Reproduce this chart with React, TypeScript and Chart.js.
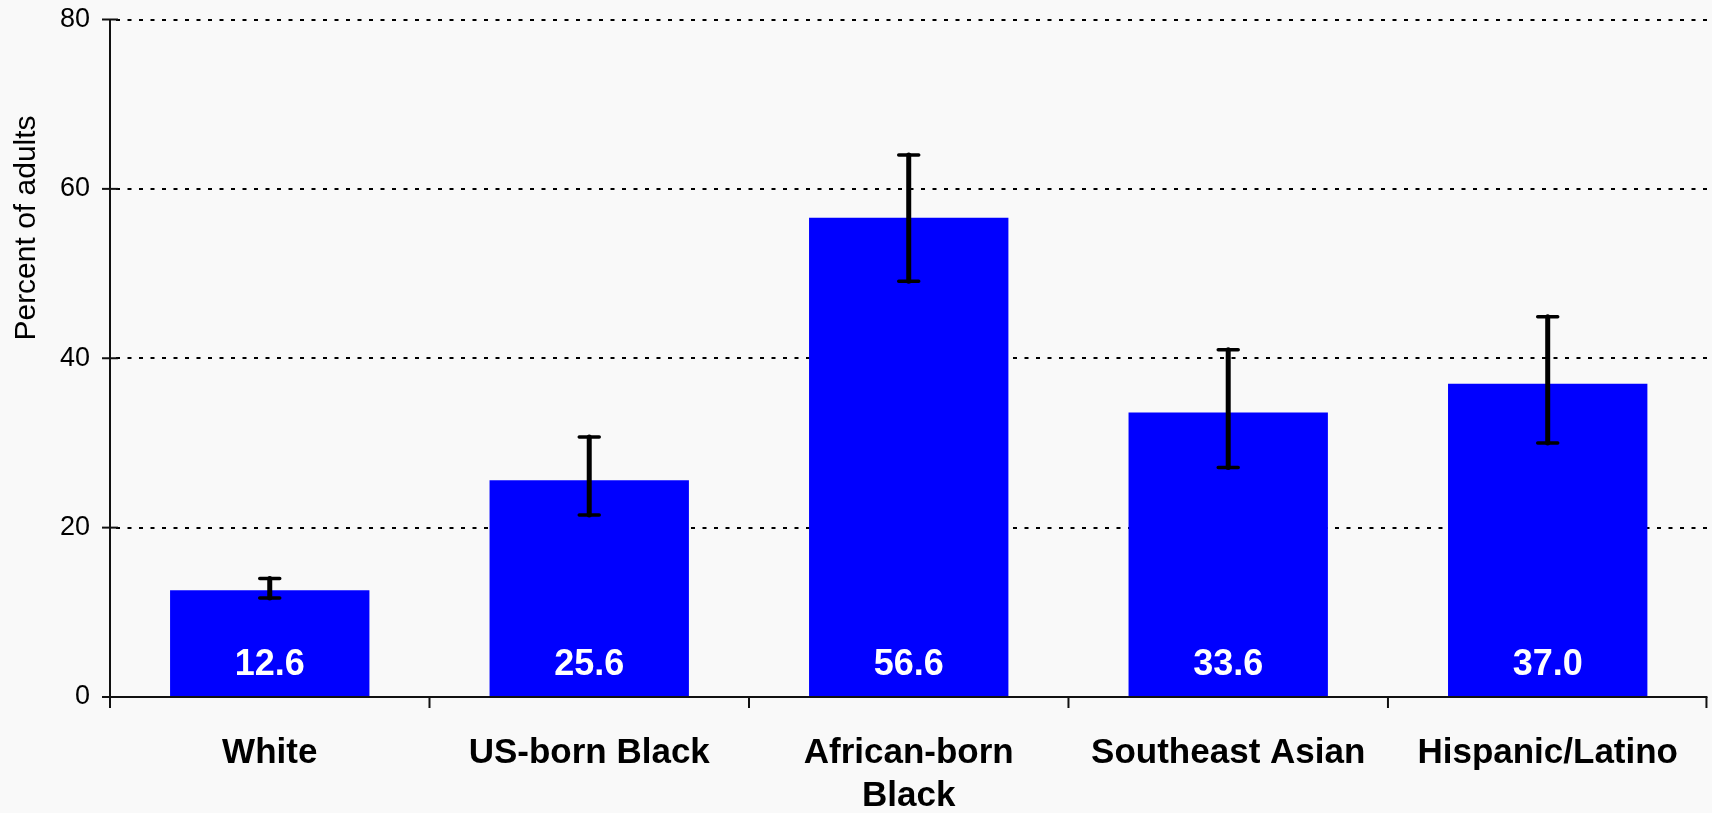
import React, { useEffect, useRef } from "react";
import { Chart, registerables } from "chart.js";

Chart.register(...registerables);

const categories: (string | string[])[] = [
  "White",
  "US-born Black",
  ["African-born", "Black"],
  "Southeast Asian",
  "Hispanic/Latino",
];
const values = [12.6, 25.6, 56.6, 33.6, 37.0];
const errLow = [11.7, 21.5, 49.1, 27.1, 30.0];
const errHigh = [14.0, 30.7, 64.0, 41.0, 44.9];
const yTicks = [0, 20, 40, 60, 80];
const yTitle = "Percent of adults";

const FONT = "'Liberation Sans', Arial, Helvetica, sans-serif";

const customPlugin = {
  id: "custom",
  beforeDraw(chart: any) {
    const ctx = chart.ctx;
    ctx.save();
    ctx.fillStyle = "#f9f9f9";
    ctx.fillRect(0, 0, chart.width, chart.height);
    ctx.restore();
  },
  beforeDatasetsDraw(chart: any) {
    const ctx = chart.ctx;
    const { left, right } = chart.chartArea;
    const y = chart.scales.y;
    ctx.save();
    ctx.strokeStyle = "#000";
    ctx.lineWidth = 2;
    ctx.setLineDash([4, 7.5]);
    yTicks.forEach((t) => {
      if (t === 0) return;
      const py = Math.round(y.getPixelForValue(t));
      ctx.beginPath();
      ctx.moveTo(left + 6, py);
      ctx.lineTo(right, py);
      ctx.stroke();
    });
    ctx.restore();
  },
  afterDatasetsDraw(chart: any) {
    const ctx = chart.ctx;
    const { left, right, top } = chart.chartArea;
    const x = chart.scales.x;
    const y = chart.scales.y;
    const base = y.getPixelForValue(0);
    ctx.save();
    ctx.setLineDash([]);
    ctx.strokeStyle = "#111";
    ctx.lineWidth = 2;
    // y axis
    ctx.beginPath();
    ctx.moveTo(left, top);
    ctx.lineTo(left, base + 11);
    ctx.stroke();
    // x axis
    ctx.beginPath();
    ctx.moveTo(left - 8, base);
    ctx.lineTo(right, base);
    ctx.stroke();
    // y ticks crossing
    yTicks.forEach((t) => {
      const py = y.getPixelForValue(t);
      ctx.beginPath();
      ctx.moveTo(left - 8, py);
      ctx.lineTo(left + 8, py);
      ctx.stroke();
    });
    // x ticks at category boundaries
    const half = (x.getPixelForValue(1) - x.getPixelForValue(0)) / 2;
    for (let i = 0; i <= categories.length; i++) {
      const px = Math.min(x.getPixelForValue(i) - half, right - 1);
      ctx.beginPath();
      ctx.moveTo(px, base);
      ctx.lineTo(px, base + 11);
      ctx.stroke();
    }
    // error bars
    ctx.strokeStyle = "#000";
    ctx.lineCap = "round";
    values.forEach((_, i) => {
      const px = x.getPixelForValue(i);
      const yl = y.getPixelForValue(errLow[i]);
      const yh = y.getPixelForValue(errHigh[i]);
      ctx.lineWidth = 5;
      ctx.beginPath();
      ctx.moveTo(px, yl);
      ctx.lineTo(px, yh);
      ctx.stroke();
      ctx.lineWidth = 3.5;
      ctx.beginPath();
      ctx.moveTo(px - 10, yl);
      ctx.lineTo(px + 10, yl);
      ctx.moveTo(px - 10, yh);
      ctx.lineTo(px + 10, yh);
      ctx.stroke();
    });
    // data labels
    ctx.fillStyle = "#fff";
    ctx.font = `bold 36px ${FONT}`;
    ctx.textAlign = "center";
    ctx.textBaseline = "alphabetic";
    values.forEach((v, i) => {
      ctx.fillText(v.toFixed(1), x.getPixelForValue(i), base - 22);
    });
    // y title
    ctx.fillStyle = "#000";
    ctx.font = `30px ${FONT}`;
    ctx.translate(35, 228);
    ctx.rotate(-Math.PI / 2);
    ctx.textAlign = "center";
    ctx.textBaseline = "alphabetic";
    ctx.fillText(yTitle, 0, 0);
    ctx.restore();
  },
};

export default function App() {
  const ref = useRef<HTMLCanvasElement | null>(null);
  useEffect(() => {
    document.body.style.margin = "0";
    const canvas = ref.current!;
    const chart = new Chart(canvas, {
      type: "bar",
      data: {
        labels: categories,
        datasets: [
          {
            data: values,
            backgroundColor: "#0000ff",
            borderWidth: 0,
            categoryPercentage: 1,
            barPercentage: 0.624,
          },
        ],
      },
      options: {
        responsive: false,
        animation: false,
        layout: { padding: { top: 19.5, right: 0, left: 0, bottom: 0 } },
        plugins: {
          legend: { display: false },
          tooltip: { enabled: false },
        },
        scales: {
          x: {
            grid: { display: false, drawTicks: false },
            border: { display: false },
            ticks: {
              color: "#000",
              font: { family: FONT, size: 35, weight: "bold", lineHeight: 1.25 },
              padding: 34,
              maxRotation: 0,
              autoSkip: false,
            },
            afterFit: (s: any) => {
              s.height = 116;
            },
          },
          y: {
            min: 0,
            max: 80,
            grid: {
              display: false,
              drawTicks: true,
              tickLength: 20,
              color: "rgba(0,0,0,0)",
            },
            border: { display: false },
            ticks: {
              stepSize: 20,
              color: "#000",
              font: { family: FONT, size: 27 },
              padding: 0,
            },
            afterFit: (s: any) => {
              s.width = 110;
            },
          },
        },
      },
      plugins: [customPlugin],
    });
    return () => chart.destroy();
  }, []);
  return (
    <div style={{ position: "absolute", left: 0, top: 0, width: 1712, height: 813 }}>
      <canvas ref={ref} width={1712} height={813} style={{ display: "block" }} />
    </div>
  );
}
